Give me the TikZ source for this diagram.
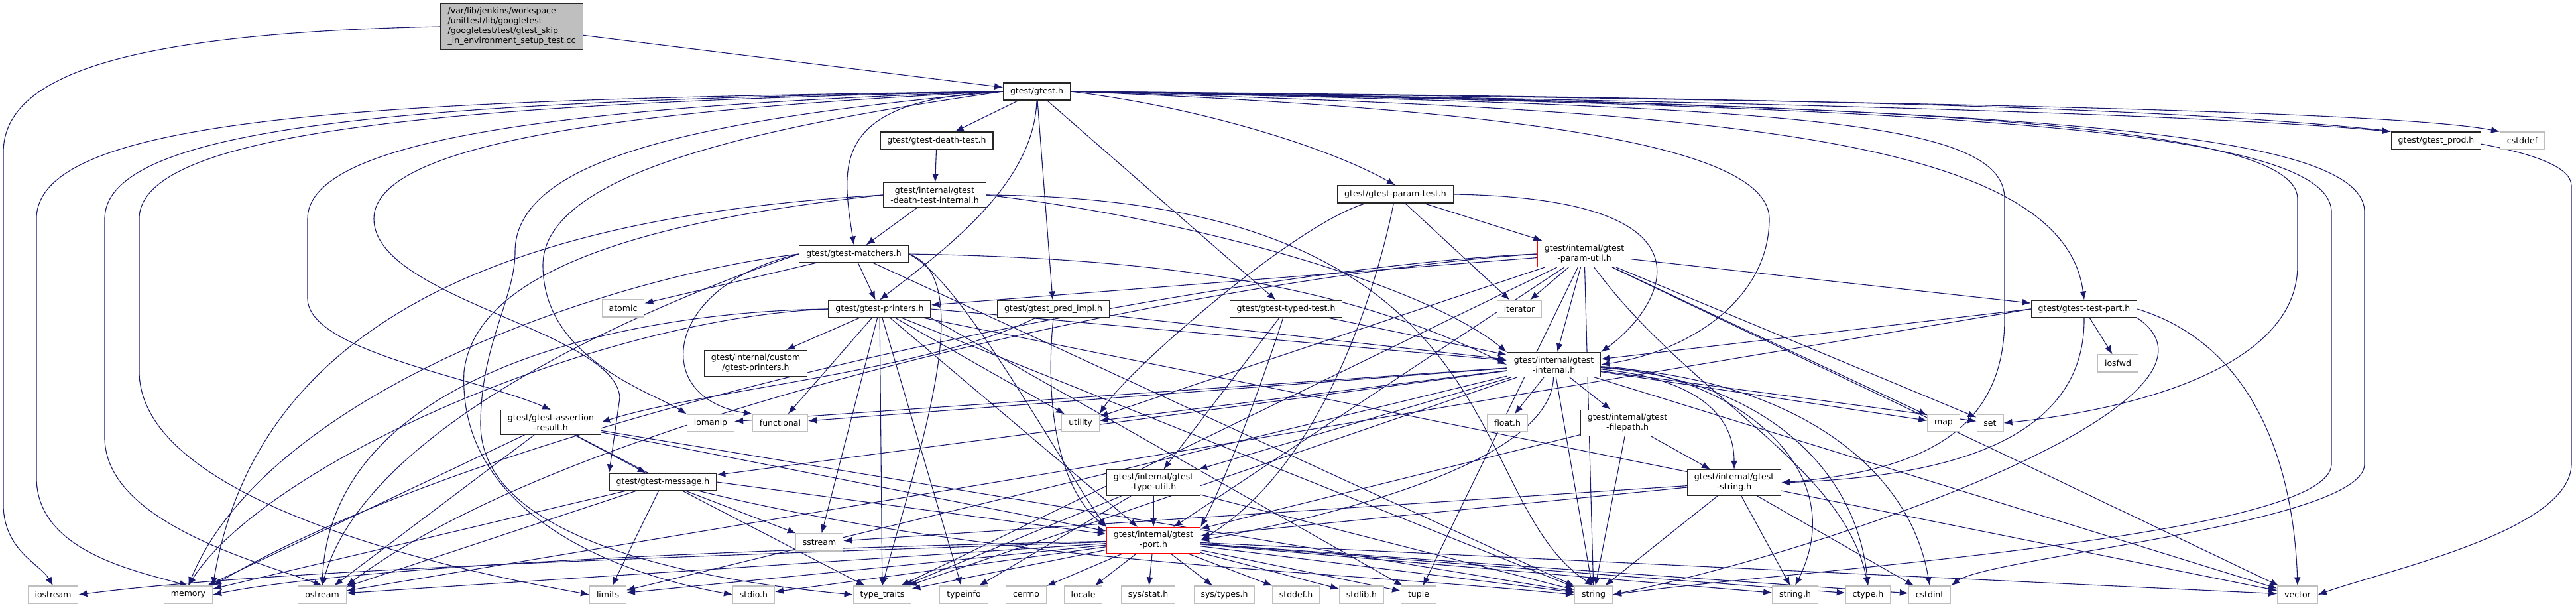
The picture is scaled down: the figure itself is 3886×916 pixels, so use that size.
\documentclass[tikz,border=0pt]{standalone}
\usepackage{fontspec}
\setmainfont{DejaVu Sans}
\usetikzlibrary{arrows.meta}
\definecolor{edgeblue}{RGB}{25,25,112}
\definecolor{sysgray}{RGB}{191,191,191}
\definecolor{rootgray}{RGB}{191,191,191}
\pgfdeclarelayer{bg}
\pgfsetlayers{bg,main}

\begin{document}
\begin{tikzpicture}[x=0.5pt, y=-0.5pt,
  hdr/.style={rectangle, draw=black!85, fill=white, line width=0.55pt, minimum height=13pt, inner xsep=5.2pt, inner ysep=3pt, align=center, font=\fontsize{6.25pt}{7.5pt}\selectfont},
  sys/.style={hdr, draw=sysgray},
  trunc/.style={hdr, draw=red},
  rootbox/.style={hdr, fill=rootgray, align=left, inner xsep=5.5pt},
  dep/.style={-{Latex[length=6.5pt, width=5pt]}, draw=edgeblue, line width=0.55pt}
]
\useasboundingbox (0,0) rectangle (3886,916);
% headers
\node[rootbox] (root) at (772,40) {/var/lib/jenkins/workspace\\/unittest/lib/googletest\\/googletest/test/gtest\_skip\\\_in\_environment\_setup\_test.cc};
\node[hdr] (gtest) at (1564,138) {gtest/gtest.h};
\node[hdr] (deathtest) at (1413,212) {gtest/gtest-death-test.h};
\node[hdr] (prod) at (3675,212) {gtest/gtest\_prod.h};
\node[sys] (cstddef) at (3805,212) {cstddef};
\node[hdr] (deathint) at (1410,294) {gtest/internal/gtest\\-death-test-internal.h};
\node[hdr] (paramtest) at (2105,293) {gtest/gtest-param-test.h};
\node[hdr] (matchers) at (1288,383) {gtest/gtest-matchers.h};
\node[trunc] (paramutil) at (2390,383) {gtest/internal/gtest\\-param-util.h};
\node[sys] (atomic) at (940,465) {atomic};
\node[hdr] (printers) at (1327,466) {gtest/gtest-printers.h};
\node[hdr] (predimpl) at (1589,466) {gtest/gtest\_pred\_impl.h};
\node[hdr] (typedtest) at (1940,466) {gtest/gtest-typed-test.h};
\node[sys] (iterator) at (2292,466) {iterator};
\node[hdr] (testpart) at (3144,466) {gtest/gtest-test-part.h};
\node[hdr] (custom) at (1140,548) {gtest/internal/custom\\/gtest-printers.h};
\node[hdr] (internal) at (2344,550) {gtest/internal/gtest\\-internal.h};
\node[sys] (iosfwd) at (3195,548) {iosfwd};
\node[hdr] (assertion) at (831,637) {gtest/gtest-assertion\\-result.h};
\node[sys] (iomanip) at (1072,638) {iomanip};
\node[sys] (functional) at (1177,638) {functional};
\node[sys] (utility) at (1630,638) {utility};
\node[sys] (floath) at (2274,638) {float.h};
\node[hdr] (filepath) at (2455,638) {gtest/internal/gtest\\-filepath.h};
\node[sys] (map) at (2932,638) {map};
\node[sys] (set) at (3002,638) {set};
\node[hdr] (message) at (1000,727) {gtest/gtest-message.h};
\node[hdr] (typeutil) at (1740,728) {gtest/internal/gtest\\-type-util.h};
\node[hdr] (gstring) at (2616,728) {gtest/internal/gtest\\-string.h};
\node[sys] (sstream) at (1236,818) {sstream};
\node[trunc] (port) at (1740,815) {gtest/internal/gtest\\-port.h};
% system headers, bottom row
\node[sys] (iostream) at (80,897) {iostream};
\node[sys] (memory) at (284,897) {memory};
\node[sys] (ostream) at (486,897) {ostream};
\node[sys] (limits) at (917,897) {limits};
\node[sys] (stdioh) at (1137,897) {stdio.h};
\node[sys] (typetraits) at (1331,897) {type\_traits};
\node[sys] (typeinfo) at (1454,897) {typeinfo};
\node[sys] (cerrno) at (1548,897) {cerrno};
\node[sys] (locale) at (1634,897) {locale};
\node[sys] (sysstat) at (1732,897) {sys/stat.h};
\node[sys] (systypes) at (1847,897) {sys/types.h};
\node[sys] (stddefh) at (1955,897) {stddef.h};
\node[sys] (stdlibh) at (2054,897) {stdlib.h};
\node[sys] (tuple) at (2140,897) {tuple};
\node[sys] (string) at (2404,897) {string};
\node[sys] (stringh) at (2708,897) {string.h};
\node[sys] (ctypeh) at (2818,897) {ctype.h};
\node[sys] (cstdint) at (2911,897) {cstdint};
\node[sys] (vector) at (3466,897) {vector};

\begin{pgfonlayer}{bg}
\fill[white] (0,0) rectangle (3886,916);
% root
\draw[dep] (root) -- (gtest);
\draw[dep] (root.west) .. controls (200,50) and (5,110) .. (5,230) -- (5,760) .. controls (5,830) and (60,850) .. (iostream.north);
% gtest.h
\draw[dep] (gtest) -- (deathtest);
\draw[dep] (gtest.west) .. controls (1250,150) and (1270,250) .. (matchers.north);
\draw[dep] (gtest.south) .. controls (1560,280) and (1420,380) .. (printers.north);
\draw[dep] (gtest) -- (predimpl);
\draw[dep] (gtest) -- (typedtest);
\draw[dep] (gtest.east) .. controls (1800,160) and (2000,220) .. (paramtest.north);
\draw[dep] (gtest.east) .. controls (2500,165) and (3110,190) .. (testpart.north);
\draw[dep] (gtest.east) .. controls (2500,150) and (3300,170) .. (prod.north west);
\draw[dep] (gtest.east) .. controls (2700,150) and (3600,165) .. (cstddef.north west);
\draw[dep] (gtest.east) .. controls (3000,150) and (3879,170) .. (3879,280) -- (3879,700) .. controls (3879,800) and (3600,860) .. (vector.east);
\draw[dep] (gtest.east) .. controls (2800,155) and (3466,180) .. (3466,300) -- (3466,400) .. controls (3466,560) and (3200,620) .. (set.east);
\draw[dep] (gtest.east) .. controls (2900,160) and (3517,190) .. (3517,320) -- (3517,700) .. controls (3517,810) and (2700,860) .. (string.east);
\draw[dep] (gtest.east) .. controls (3000,160) and (3567,190) .. (3567,320) -- (3567,700) .. controls (3567,790) and (3000,840) .. (cstdint.north east);
\draw[dep] (gtest.east) .. controls (2700,160) and (3024,180) .. (3024,300) -- (3024,480) .. controls (3024,650) and (2900,710) .. (gstring.east);
\draw[dep] (gtest.east) .. controls (2300,165) and (2669,220) .. (2669,330) .. controls (2669,450) and (2550,530) .. (internal.east);
\draw[dep] (gtest.west) .. controls (600,150) and (55,170) .. (55,330) -- (55,720) .. controls (55,830) and (200,860) .. (memory.north);
\draw[dep] (gtest.west) .. controls (650,152) and (158,185) .. (158,330) -- (158,660) .. controls (158,790) and (400,850) .. (ostream.north);
\draw[dep] (gtest.west) .. controls (700,155) and (210,195) .. (210,330) -- (210,560) .. controls (210,780) and (800,880) .. (limits.west);
\draw[dep] (gtest.west) .. controls (850,160) and (464,210) .. (464,330) -- (464,450) .. controls (464,530) and (720,570) .. (assertion.north);
\draw[dep] (gtest.west) .. controls (950,165) and (564,215) .. (564,330) .. controls (564,450) and (930,500) .. (935,600) -- (message.north west);
\draw[dep] (gtest.west) .. controls (1050,180) and (777,240) .. (777,380) .. controls (777,450) and (725,520) .. (725,640) .. controls (725,800) and (1000,870) .. (typetraits.west);
\draw[dep] (gtest.west) .. controls (1150,190) and (819,260) .. (819,400) .. controls (819,540) and (980,590) .. (iomanip.north west);
% death test
\draw[dep] (deathtest) -- (deathint);
\draw[dep] (deathint) -- (matchers);
\draw[dep] (deathint.west) .. controls (900,320) and (400,420) .. (memory.north east);
\draw[dep] (deathint.west) .. controls (1000,330) and (720,400) .. (700,560) .. controls (690,760) and (900,860) .. (stdioh.west);
\draw[dep] (deathint.east) .. controls (1800,330) and (2150,430) .. (internal.north west);
\draw[dep] (deathint.east) .. controls (2300,300) and (2200,750) .. (string.north);
% matchers
\draw[dep] (matchers) -- (atomic);
\draw[dep] (matchers) -- (printers);
\draw[dep] (matchers.west) .. controls (1000,430) and (980,600) .. (functional.north west);
\draw[dep] (matchers.west) .. controls (900,420) and (400,600) .. (memory.north);
\draw[dep] (matchers.west) .. controls (950,470) and (550,650) .. (ostream.north);
\draw[dep] (matchers) -- (string);
\draw[dep] (matchers.east) .. controls (1480,420) and (1380,700) .. (typetraits.north);
\draw[dep] (matchers.east) .. controls (1800,390) and (2050,440) .. (internal.west);
\draw[dep] (matchers.east) .. controls (1450,420) and (1600,700) .. (port.north west);
% printers
\draw[dep] (printers) -- (custom);
\draw[dep] (printers) -- (functional);
\draw[dep] (printers.west) .. controls (900,480) and (400,700) .. (memory.north);
\draw[dep] (printers.west) .. controls (950,470) and (500,560) .. (ostream.north);
\draw[dep] (printers) -- (sstream);
\draw[dep] (printers) -- (string);
\draw[dep] (printers.south east) -- (tuple);
\draw[dep] (printers) -- (typetraits);
\draw[dep] (printers) -- (typeinfo);
\draw[dep] (printers) -- (utility);
\draw[dep] (printers) -- (vector);
\draw[dep] (printers.east) -- (internal);
\draw[dep] (printers) -- (port);
% pred_impl, typed-test
\draw[dep] (predimpl) .. controls (1400,560) and (1050,590) .. (assertion.east);
\draw[dep] (predimpl) -- (internal);
\draw[dep] (predimpl.south) .. controls (1575,620) and (1600,740) .. (port.north west);
\draw[dep] (typedtest) -- (internal);
\draw[dep] (typedtest) -- (typeutil);
\draw[dep] (typedtest) .. controls (1880,650) and (1830,760) .. (port.north east);
% param-test
\draw[dep] (paramtest) -- (paramutil);
\draw[dep] (paramtest) -- (iterator);
\draw[dep] (paramtest) .. controls (1950,340) and (1700,560) .. (utility.north east);
\draw[dep] (paramtest) .. controls (2080,420) and (2000,700) .. (port.east);
\draw[dep] (paramtest.east) .. controls (2620,300) and (2500,470) .. (internal.north east);
% param-util
\draw[dep] (paramutil) -- (printers);
\draw[dep] (paramutil.west) .. controls (1900,400) and (800,600) .. (memory.north east);
\draw[dep] (paramutil.west) .. controls (1900,410) and (900,600) .. (ostream.north east);
\draw[dep] (paramutil) -- (iterator);
\draw[dep] (paramutil) .. controls (2550,600) and (2780,700) .. (ctypeh.north);
\draw[dep] (paramutil) -- (map);
\draw[dep] (paramutil) -- (set);
\draw[dep] (paramutil) -- (string);
\draw[dep] (paramutil) -- (tuple);
\draw[dep] (paramutil) -- (typetraits);
\draw[dep] (paramutil) -- (utility);
\draw[dep] (paramutil) -- (vector);
\draw[dep] (paramutil) -- (testpart);
\draw[dep] (paramutil) -- (internal);
\draw[dep] (paramutil) -- (port);
% test-part
\draw[dep] (testpart) -- (iosfwd);
\draw[dep] (testpart.west) -- (ostream);
\draw[dep] (testpart.south east) .. controls (3400,600) and (2800,820) .. (string.east);
\draw[dep] (testpart.east) .. controls (3400,520) and (3460,700) .. (vector.north);
\draw[dep] (testpart.west) -- (internal);
\draw[dep] (testpart.south) .. controls (3146,680) and (2900,720) .. (gstring.east);
% gtest-internal
\draw[dep] (internal) .. controls (2340,700) and (2000,780) .. (port.east);
\draw[dep] (internal) .. controls (2650,570) and (2800,700) .. (ctypeh.north);
\draw[dep] (internal) -- (floath);
\draw[dep] (internal) .. controls (2600,560) and (2800,700) .. (stringh.north);
\draw[dep] (internal) .. controls (2700,570) and (2880,700) .. (cstdint.north);
\draw[dep] (internal) -- (functional);
\draw[dep] (internal) -- (iomanip);
\draw[dep] (internal) -- (limits);
\draw[dep] (internal) -- (map);
\draw[dep] (internal) -- (set);
\draw[dep] (internal) -- (string);
\draw[dep] (internal) -- (typetraits);
\draw[dep] (internal) -- (utility);
\draw[dep] (internal) -- (vector);
\draw[dep] (internal) -- (message);
\draw[dep] (internal) -- (filepath);
\draw[dep] (internal) .. controls (2550,570) and (2616,620) .. (gstring.north);
\draw[dep] (internal) -- (typeutil);
% filepath, string, type-util
\draw[dep] (filepath) -- (string);
\draw[dep] (filepath) -- (port);
\draw[dep] (filepath) -- (gstring);
\draw[dep] (gstring) -- (stringh);
\draw[dep] (gstring) -- (cstdint);
\draw[dep] (gstring) -- (string);
\draw[dep] (gstring) -- (port);
\draw[dep] (gstring) -- (sstream);
\draw[dep] (typeutil) -- (port);
\draw[dep] (typeutil) -- (typetraits);
\draw[dep] (typeutil) -- (typeinfo);
\draw[dep] (typeutil) -- (string);
% message, assertion-result
\draw[dep] (message) -- (limits);
\draw[dep] (message) -- (memory);
\draw[dep] (message) -- (ostream);
\draw[dep] (message) -- (sstream);
\draw[dep] (message) .. controls (1500,850) and (2000,860) .. (string.west);
\draw[dep] (message.east) -- (port);
\draw[dep] (assertion) -- (memory);
\draw[dep] (assertion) -- (ostream);
\draw[dep] (assertion) -- (string);
\draw[dep] (assertion) -- (typetraits);
\draw[dep] (assertion) -- (message);
\draw[dep] (assertion) -- (port);
% gtest-port
\draw[dep] (port) -- (ctypeh);
\draw[dep] (port) -- (stddefh);
\draw[dep] (port) -- (stdioh);
\draw[dep] (port) -- (stdlibh);
\draw[dep] (port) -- (stringh);
\draw[dep] (port) -- (cerrno);
\draw[dep] (port) -- (cstdint);
\draw[dep] (port) .. controls (1000,840) and (400,860) .. (iostream.east);
\draw[dep] (port) -- (limits);
\draw[dep] (port) -- (locale);
\draw[dep] (port) .. controls (1000,830) and (500,860) .. (memory.east);
\draw[dep] (port) -- (ostream);
\draw[dep] (port) -- (string);
\draw[dep] (port) -- (tuple);
\draw[dep] (port) -- (typetraits);
\draw[dep] (port) -- (vector);
\draw[dep] (port) -- (systypes);
\draw[dep] (port) -- (sysstat);
\end{pgfonlayer}
\end{tikzpicture}
\end{document}
